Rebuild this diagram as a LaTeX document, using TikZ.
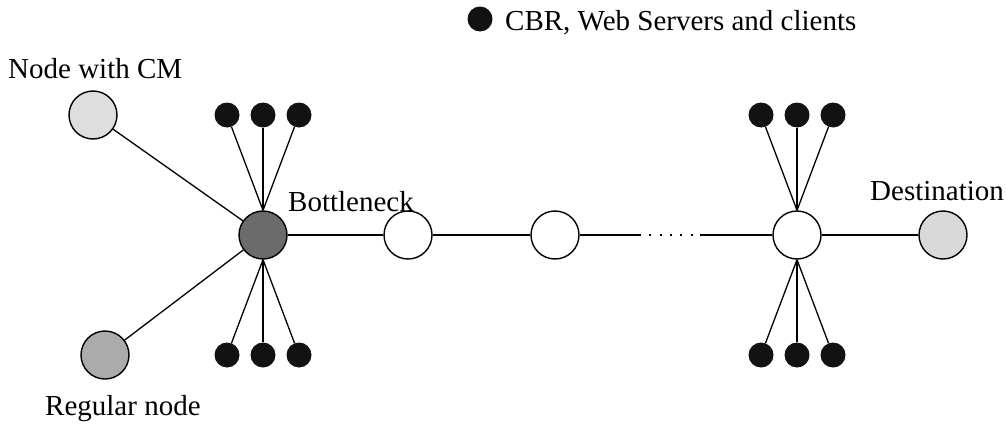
\documentclass[tikz,border=0pt]{standalone}
\usepackage{fontspec}
\setmainfont{Liberation Serif}
\begin{document}
\begin{tikzpicture}[x=1pt,y=-1pt,
  big/.style={circle,draw=black,line width=1.4pt,minimum size=48pt,inner sep=0pt},
  dot/.style={circle,fill=black!93,draw=none,minimum size=25pt,inner sep=0pt},
  lbl/.style={anchor=base west,inner sep=0pt,font=\fontsize{29}{34}\selectfont},
  link/.style={line width=1.3pt}]
\useasboundingbox (0,0) rectangle (1006,423);
% legend
\node[dot] (ld) at (480,19) {};
\node[lbl] (lt) at (505,30) {CBR, Web Servers and clients};
% big nodes
\node[big,fill=black!13] (cm) at (93,115) {};
\node[big,fill=black!33] (reg) at (105,355) {};
\node[big,fill=black!58] (bn) at (263,235) {};
\node[big,fill=white] (w1) at (408,235) {};
\node[big,fill=white] (w2) at (555,235) {};
\node[big,fill=white] (hub) at (797,235) {};
\node[big,fill=black!15] (dst) at (943,235) {};
% labels
\node[lbl] (lcm) at (8,78) {Node with CM};
\node[lbl] (lreg) at (45,415) {Regular node};
\node[lbl] (lbn) at (288,211) {Bottleneck};
\node[lbl] (ldst) at (870,200) {Destination};
% dots around bottleneck
\node[dot] (bt1) at (227,115) {};
\node[dot] (bt2) at (263,115) {};
\node[dot] (bt3) at (299,115) {};
\node[dot] (bb1) at (227,355) {};
\node[dot] (bb2) at (263,355) {};
\node[dot] (bb3) at (299,355) {};
% dots around hub
\node[dot] (ht1) at (761,115) {};
\node[dot] (ht2) at (797,115) {};
\node[dot] (ht3) at (833,115) {};
\node[dot] (hb1) at (761,355) {};
\node[dot] (hb2) at (797,355) {};
\node[dot] (hb3) at (833,355) {};
\coordinate (c1) at (639,235);
\coordinate (c2) at (700,235);
% links
\draw[link] (cm) -- (bn);
\draw[link] (reg) -- (bn);
\foreach \d in {bt1,bt2,bt3} \draw[link] (\d) -- (bn.north);
\foreach \d in {bb1,bb2,bb3} \draw[link] (\d) -- (bn.south);
\foreach \d in {ht1,ht2,ht3} \draw[link] (\d) -- (hub.north);
\foreach \d in {hb1,hb2,hb3} \draw[link] (\d) -- (hub.south);
\draw[link] (bn) -- (w1);
\draw[link] (w1) -- (w2);
\draw[link] (w2) -- (c1);
\draw[line width=1.6pt,dash pattern=on 2pt off 8.3pt] (c1) -- (c2);
\draw[link] (c2) -- (hub);
\draw[link] (hub) -- (dst);
\end{tikzpicture}
\end{document}
